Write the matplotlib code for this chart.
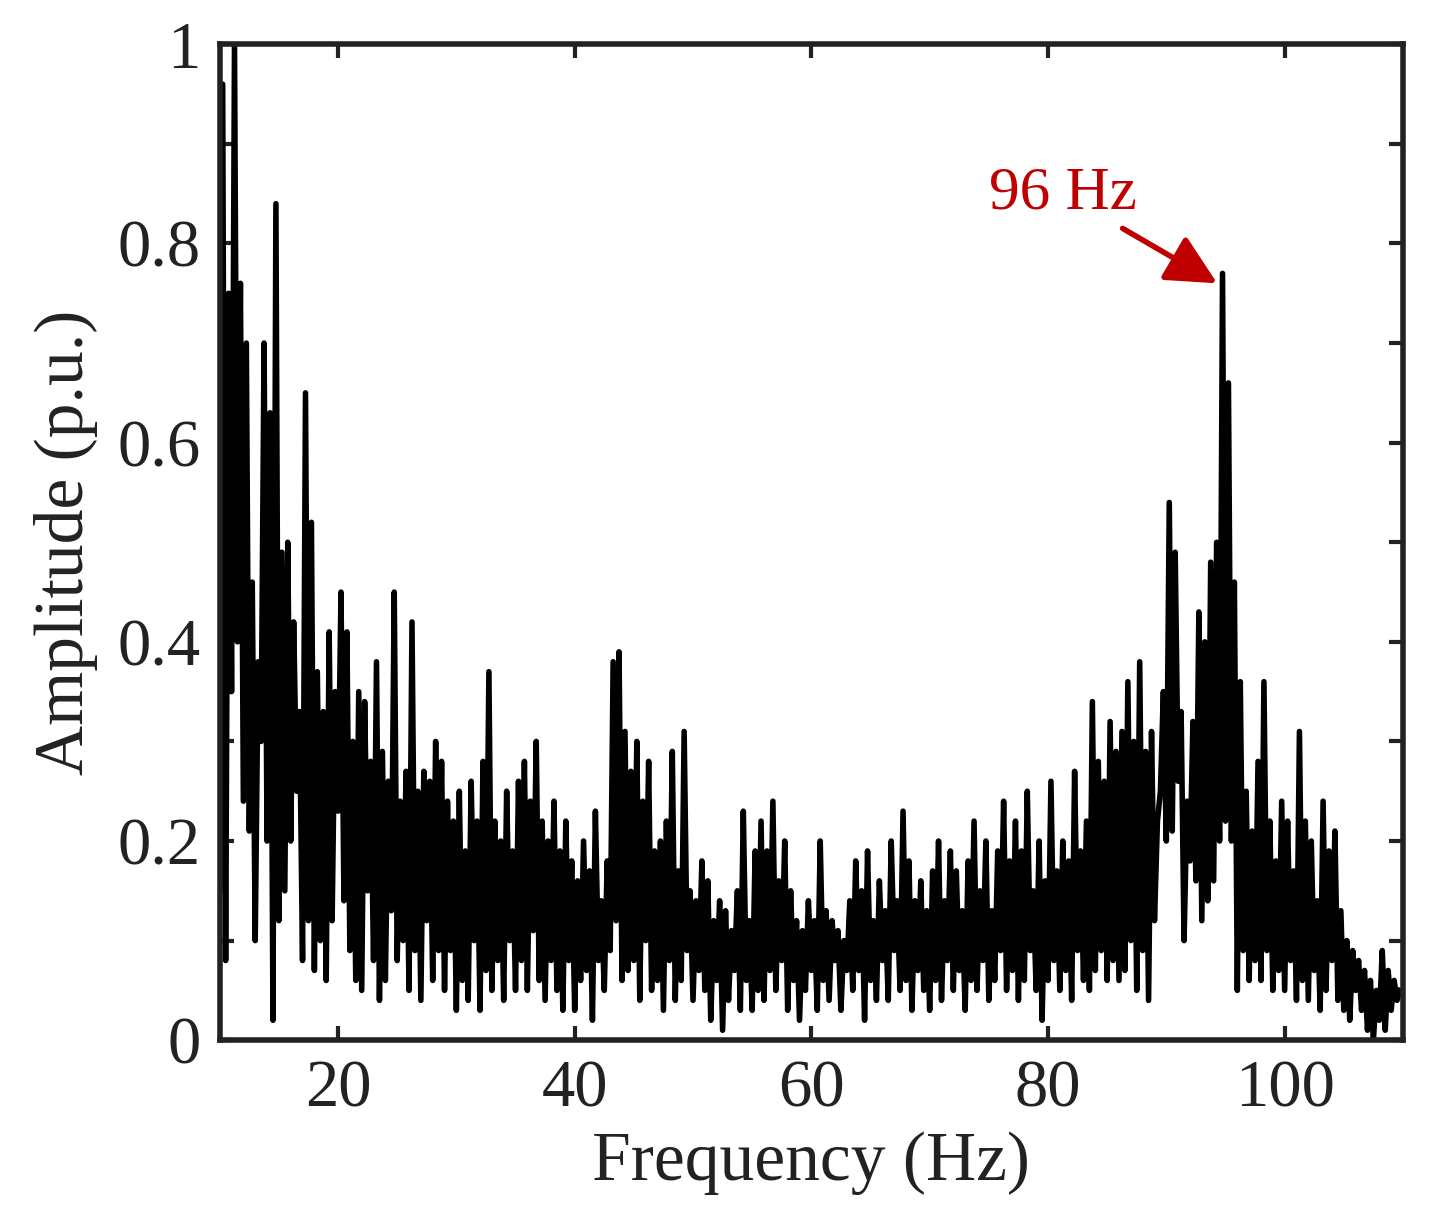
import matplotlib
matplotlib.use('Agg')
import matplotlib.pyplot as plt
import numpy as np

plt.rcParams['font.family'] = ['Liberation Serif', 'DejaVu Serif']

f_start = 10.0
f_step = 0.25
amplitude = [
    0.15, 0.96, 0.08, 0.75, 0.35, 1.0, 0.4, 0.76,
    0.24, 0.70, 0.21, 0.46, 0.10, 0.38, 0.30, 0.70,
    0.2, 0.63, 0.02, 0.84, 0.12, 0.49, 0.15, 0.50,
    0.20, 0.42, 0.25, 0.33, 0.08, 0.65, 0.12, 0.52,
    0.07, 0.37, 0.10, 0.33, 0.06, 0.41, 0.12, 0.35,
    0.23, 0.45, 0.14, 0.41, 0.09, 0.30, 0.06, 0.35,
    0.05, 0.34, 0.15, 0.28, 0.08, 0.38, 0.04, 0.29,
    0.06, 0.26, 0.13, 0.45, 0.08, 0.24, 0.10, 0.27,
    0.05, 0.42, 0.09, 0.25, 0.04, 0.27, 0.12, 0.26,
    0.06, 0.30, 0.09, 0.28, 0.05, 0.24, 0.09, 0.22,
    0.03, 0.25, 0.06, 0.19, 0.04, 0.26, 0.10, 0.22,
    0.03, 0.28, 0.07, 0.37, 0.05, 0.22, 0.08, 0.20,
    0.04, 0.25, 0.10, 0.19, 0.05, 0.26, 0.08, 0.28,
    0.05, 0.24, 0.11, 0.30, 0.06, 0.22, 0.04, 0.20,
    0.08, 0.24, 0.05, 0.19, 0.03, 0.22, 0.08, 0.18,
    0.03, 0.16, 0.06, 0.20, 0.07, 0.17, 0.02, 0.23,
    0.08, 0.14, 0.05, 0.18, 0.09, 0.38, 0.12, 0.39,
    0.06, 0.31, 0.07, 0.27, 0.08, 0.30, 0.04, 0.24,
    0.10, 0.28, 0.05, 0.19, 0.06, 0.20, 0.03, 0.22,
    0.08, 0.29, 0.04, 0.17, 0.06, 0.31, 0.09, 0.15,
    0.04, 0.14, 0.07, 0.18, 0.05, 0.16, 0.02, 0.12,
    0.06, 0.14, 0.01, 0.13, 0.04, 0.11, 0.07, 0.15,
    0.03, 0.23, 0.06, 0.12, 0.03, 0.19, 0.05, 0.22,
    0.04, 0.19, 0.07, 0.24, 0.05, 0.16, 0.08, 0.20,
    0.03, 0.15, 0.06, 0.12, 0.02, 0.11, 0.05, 0.14,
    0.07, 0.12, 0.03, 0.20, 0.06, 0.13, 0.04, 0.12,
    0.08, 0.11, 0.03, 0.10, 0.07, 0.14, 0.05, 0.18,
    0.07, 0.15, 0.02, 0.19, 0.06, 0.12, 0.04, 0.16,
    0.08, 0.13, 0.04, 0.20, 0.09, 0.14, 0.05, 0.23,
    0.06, 0.18, 0.03, 0.14, 0.07, 0.16, 0.05, 0.13,
    0.03, 0.17, 0.06, 0.20, 0.04, 0.14, 0.08, 0.19,
    0.05, 0.17, 0.07, 0.13, 0.03, 0.18, 0.06, 0.22,
    0.05, 0.15, 0.08, 0.20, 0.04, 0.13, 0.06, 0.19,
    0.09, 0.24, 0.05, 0.18, 0.07, 0.22, 0.04, 0.19,
    0.06, 0.25, 0.09, 0.15, 0.05, 0.20, 0.02, 0.16,
    0.06, 0.26, 0.08, 0.17, 0.05, 0.20, 0.07, 0.18,
    0.04, 0.27, 0.09, 0.19, 0.06, 0.22, 0.05, 0.34,
    0.07, 0.28, 0.09, 0.26, 0.06, 0.32, 0.08, 0.29,
    0.06, 0.31, 0.07, 0.36, 0.10, 0.30, 0.05, 0.38,
    0.09, 0.29, 0.04, 0.31, 0.12, 0.22, 0.25, 0.35,
    0.20, 0.54, 0.21, 0.49, 0.26, 0.33, 0.10, 0.24,
    0.18, 0.32, 0.16, 0.43, 0.12, 0.40, 0.14, 0.48,
    0.16, 0.50, 0.20, 0.77, 0.22, 0.66, 0.20, 0.46,
    0.05, 0.36, 0.09, 0.25, 0.06, 0.21, 0.08, 0.28,
    0.06, 0.36, 0.09, 0.22, 0.05, 0.18, 0.07, 0.24,
    0.05, 0.22, 0.08, 0.17, 0.04, 0.31, 0.06, 0.22,
    0.04, 0.20, 0.07, 0.14, 0.03, 0.24, 0.05, 0.19,
    0.08, 0.21, 0.04, 0.13, 0.03, 0.10, 0.02, 0.09,
    0.05, 0.08, 0.03, 0.07, 0.01, 0.06, 0.00, 0.05,
    0.02, 0.09, 0.01, 0.07, 0.03, 0.06, 0.04, 0.05,
]
freq = f_start + f_step * np.arange(len(amplitude))
x_ticks = [20, 40, 60, 80, 100]
y_ticks = [0, 0.2, 0.4, 0.6, 0.8, 1]
y_tick_labels = ['0', '0.2', '0.4', '0.6', '0.8', '1']
peak_label = '96 Hz'

fig = plt.figure(figsize=(14.36, 12.31), dpi=100)
ax = fig.add_axes([0.153, 0.155, 0.824, 0.809])
ax.plot(freq, amplitude, color='black', lw=4)
ax.set_xlim(10, 110)
ax.set_ylim(0, 1)
ax.set_xticks(x_ticks)
ax.set_yticks(y_ticks)
ax.set_yticklabels(y_tick_labels)
ax.set_yticks(np.arange(0, 1.01, 0.1), minor=True)
ax.tick_params(which='both', direction='in', top=True, right=True,
               labelsize=48, width=3, colors='#222222')
ax.tick_params(which='major', length=10, pad=14)
ax.tick_params(which='minor', length=10)
for s in ax.spines.values():
    s.set_linewidth(4)
    s.set_color('#222222')
ax.set_xlabel('Frequency (Hz)', fontsize=50, color='#222222', labelpad=8)
ax.set_ylabel('Amplitude (p.u.)', fontsize=50, color='#222222', labelpad=14)

ax.annotate(peak_label, xy=(94.3, 0.76), xytext=(87.5, 0.85),
            fontsize=44, color='#c00000', ha='right', va='center',
            arrowprops=dict(arrowstyle='-|>,head_length=0.7,head_width=0.35',
                            color='#c00000', lw=4, shrinkA=6, shrinkB=0))

fig.savefig('out.png', dpi=100)
